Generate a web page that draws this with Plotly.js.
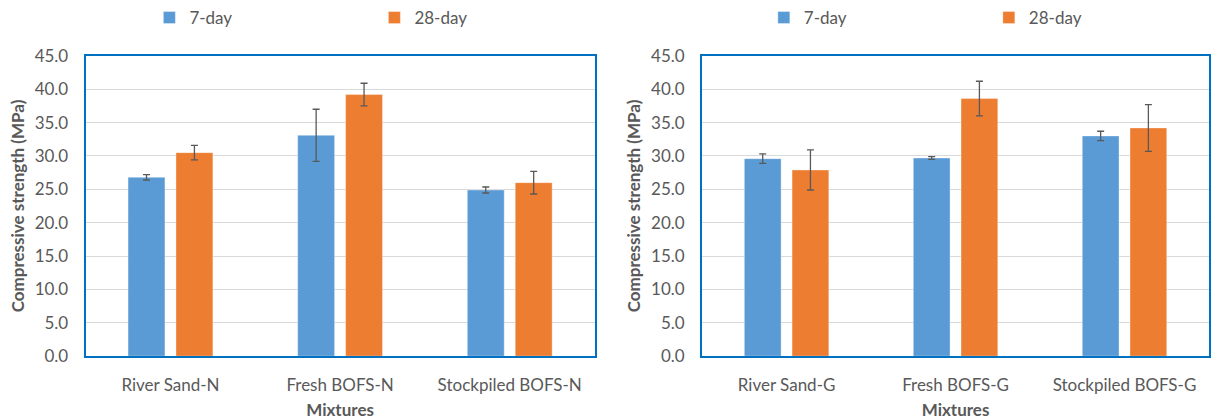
<!DOCTYPE html>
<html>
<head>
<meta charset="utf-8">
<script src="https://cdn.plot.ly/plotly-3.0.1.min.js"></script>
<style>html,body{margin:0;padding:0;background:#fff;}#chart{width:1214px;height:420px;}</style>
</head>
<body>
<div id="chart"></div>
<script>
// ---- data ----
const catsN = ["River Sand-N", "Fresh BOFS-N", "Stockpiled BOFS-N"];
const catsG = ["River Sand-G", "Fresh BOFS-G", "Stockpiled BOFS-G"];
const day7N = [26.8, 33.1, 24.9];
const day7N_err = [0.4, 3.9, 0.45];
const day28N = [30.5, 39.2, 26.0];
const day28N_err = [1.1, 1.7, 1.7];
const day7G = [29.6, 29.7, 33.0];
const day7G_err = [0.7, 0.2, 0.7];
const day28G = [27.9, 38.6, 34.2];
const day28G_err = [3.0, 2.6, 3.5];
const seriesNames = ["7-day", "28-day"];
const yTicks = [0, 5, 10, 15, 20, 25, 30, 35, 40, 45];

const BLUE = "#5B9BD5", ORANGE = "#ED7D31", FRAME = "#0070C0";
const FONT = "Lato, 'Open Sans', sans-serif";

function bar(x, y, err, name, color, xa, ya, legend) {
  return {
    type: "bar", x: x, y: y, name: name, xaxis: xa, yaxis: ya, legend: legend,
    marker: {color: color, line: {color: "rgba(255,255,255,0.35)", width: 1}},
    error_y: {type: "data", array: err, visible: true, color: "#595959", thickness: 1.3, width: 3.5}
  };
}

const data = [
  bar(catsN, day7N, day7N_err, seriesNames[0], BLUE, "x", "y", "legend"),
  bar(catsN, day28N, day28N_err, seriesNames[1], ORANGE, "x", "y", "legend"),
  bar(catsG, day7G, day7G_err, seriesNames[0], BLUE, "x2", "y2", "legend2"),
  bar(catsG, day28G, day28G_err, seriesNames[1], ORANGE, "x2", "y2", "legend2")
];

const W = 1214, H = 420;
const yDom = [1 - 356 / H, 1 - 55 / H];

function xaxis(dom, anchor) {
  return {
    domain: dom, anchor: anchor, type: "category",
    showline: true, linecolor: FRAME, linewidth: 2, mirror: true,
    showgrid: false, ticks: "", zeroline: false, fixedrange: true,
    ticklabelstandoff: 12,
    tickfont: {family: FONT, size: 17, color: "#595959"},
    title: {text: "<b>Mixtures</b>", font: {family: FONT, size: 17, color: "#595959"}, standoff: 12}
  };
}
function yaxis(anchor) {
  return {
    domain: yDom, anchor: anchor, range: [0, 45], tickvals: yTicks, tickformat: ".1f",
    showline: true, linecolor: FRAME, linewidth: 2, mirror: true,
    showgrid: true, gridcolor: "#D9D9D9", gridwidth: 1, zeroline: false,
    ticks: "", ticklabelstandoff: 12, fixedrange: true,
    tickfont: {family: FONT, size: 17, color: "#595959"},
    title: {text: "<b>Compressive strength (MPa)</b>", font: {family: FONT, size: 17, color: "#595959"}, standoff: 6}
  };
}

const legendBase = {
  orientation: "h", yanchor: "middle", y: 1 - 17 / H, xanchor: "left",
  font: {family: FONT, size: 17, color: "#595959"},
  entrywidth: 180, entrywidthmode: "pixels", bgcolor: "rgba(0,0,0,0)", traceorder: "normal"
};

const layout = {
  width: W, height: H,
  margin: {l: 0, r: 0, t: 0, b: 0},
  paper_bgcolor: "#fff", plot_bgcolor: "#fff",
  barmode: "group", bargap: 0.435, bargroupgap: 0.23,
  showlegend: true,
  xaxis: xaxis([86 / W, 597 / W], "y"),
  yaxis: yaxis("x"),
  xaxis2: xaxis([705 / W, 1], "y2"),
  yaxis2: yaxis("x2"),
  legend: Object.assign({}, legendBase, {x: 150 / W}),
  legend2: Object.assign({}, legendBase, {x: 767 / W})
};

Plotly.newPlot("chart", data, layout, {displayModeBar: false, staticPlot: true});
</script>
</body>
</html>
